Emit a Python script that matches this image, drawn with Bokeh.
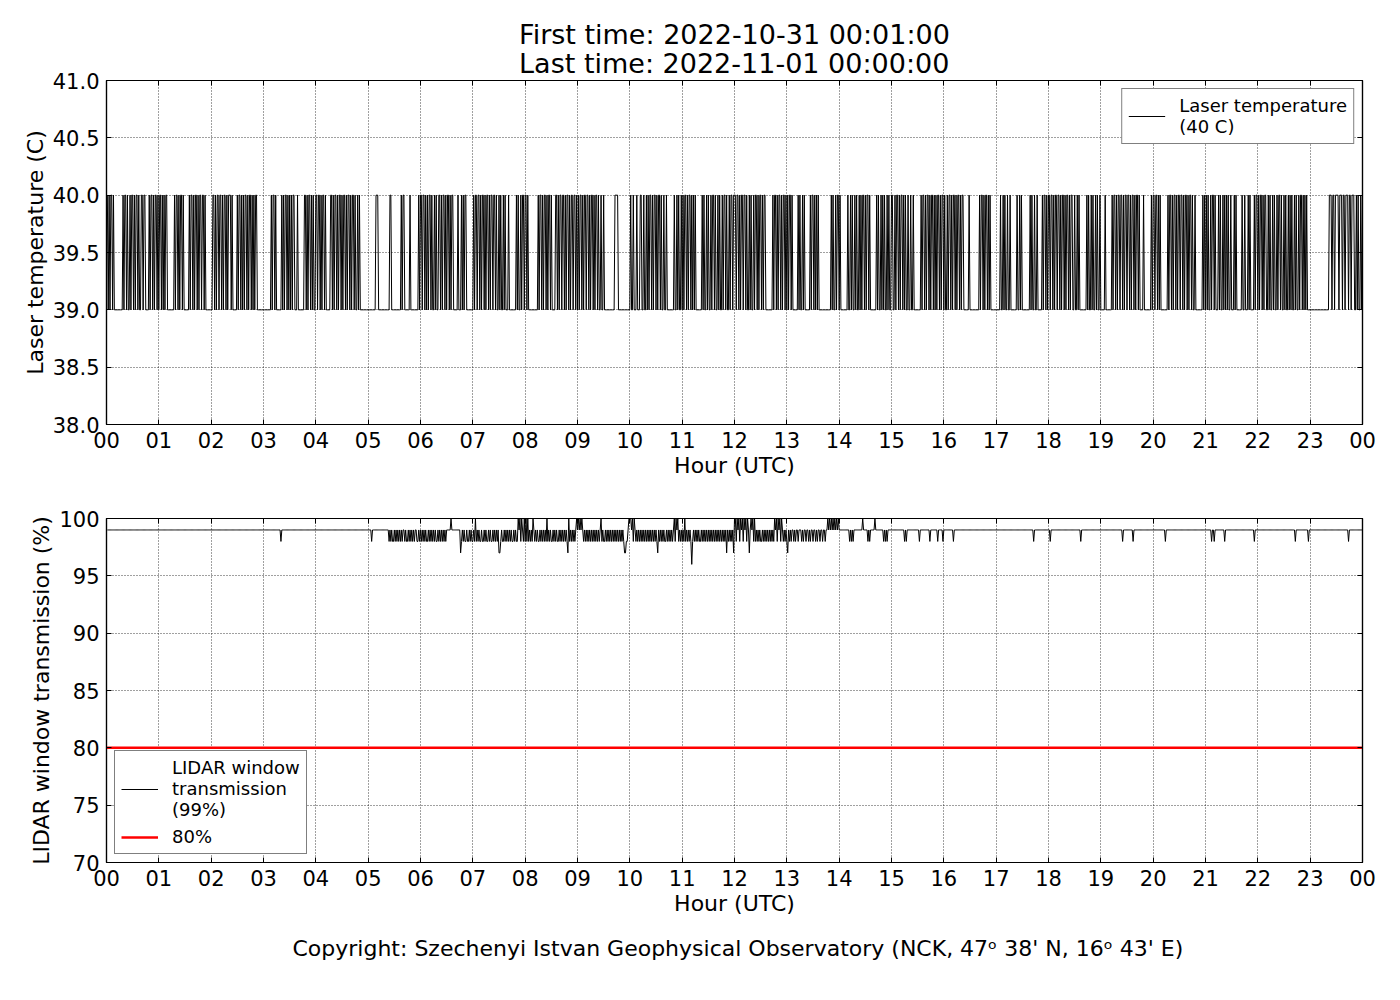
from bokeh.plotting import figure
from bokeh.models import FixedTicker, Legend, LegendItem, LinearAxis, Range1d, Title
from bokeh.layouts import column
from bokeh.embed import file_html
from bokeh.resources import INLINE

FONT = "DejaVu Sans"
first_time = "2022-10-31 00:01:00"
last_time = "2022-11-01 00:00:00"
copyright_text = "Copyright: Szechenyi Istvan Geophysical Observatory (NCK, 47\u1d52  38' N, 16\u1d52  43' E)"

hour_ticks = list(range(25))
hour_labels = ["%02d" % (h % 24) for h in hour_ticks]
temp_ticks = [38.0, 38.5, 39.0, 39.5, 40.0, 40.5, 41.0]
trans_ticks = [70, 75, 80, 85, 90, 95, 100]

# Laser temperature, one char per minute per hour: '0' = 39 C, '1' = 40 C
temp_levels = {"0": 39.0, "1": 40.0}
temp_hours = [
    "1010110100" "0000000010" "1101001011" "0101101001" "1011000010" "1101011010",
    "1101010110" "0000000101" "1010110100" "0000101101" "0110101101" "1010000000",
    "0110101101" "1010110101" "1101000001" "0110101011" "0101101010" "1100000000",
    "0000000010" "1101000000" "1010110101" "0101100010" "0000001101" "0110101001",
    "1011010110" "1000001101" "0110101101" "0110101101" "0110100101" "0000000000",
    "0000000011" "1000000000" "0000110000" "0000000101" "1000000100" "0000000101",
    "1011010101" "1010010100" "1101011010" "1101011000" "0010001010" "1100000000",
    "1011011010" "1101011010" "1101101001" "0100101000" "1000000001" "0100101101",
    "1010000000" "0000101101" "0110101101" "0000110101" "1011010110" "1011011010",
    "1011010110" "1101011010" "1101001001" "0000000000" "0011110000" "0000000000",
    "1001000100" "0110010010" "1011010110" "1011010010" "0100000000" "1001010010",
    "1011010110" "1010100000" "0010100101" "0010110100" "1010010110" "1001011011",
    "1011010110" "1101001010" "0101101011" "0101100000" "0001011010" "1101011010",
    "1011010000" "0010100101" "0000001011" "0101010000" "0000000000" "1010010110",
    "1000000001" "0010100101" "0010101101" "0110100000" "0010100101" "0100101001",
    "1001011010" "1101010010" "0100100000" "0001011010" "1101011010" "1011010110",
    "1001011010" "1101011010" "1100000010" "0000000000" "1011010110" "1010000000",
    "0000100101" "0010010000" "0001001010" "0000000010" "1001001000" "0010110101",
    "1011010110" "1101011010" "1101011001" "0010100000" "0001010010" "1001010010",
    "0000100000" "0010110101" "1011010110" "1101011010" "1101000010" "0000000101",
    "1011010100" "0000001011" "0101101011" "0110101101" "0110100100" "0000001010",
    "1010010110" "1000101001" "0101010010" "0010100000" "0100100010" "1000010110",
    "1011010110" "0101001010" "0101101001" "0100101010" "0101001011" "0101010000",
    "0000000000" "0000000000" "0111011011" "1101110110" "1110110111" "0010100101",
]

# LIDAR window transmission, one char per minute: '0'=100, '1'=99, '2'=98, '3'=97, '4'=96 %
trans_levels = {"0": 100, "1": 99, "2": 98, "3": 97, "4": 96}
trans_hours = [
    "1111111111" "1111111111" "1111111111" "1111111111" "1111111111" "1111111111",
    "1111111111" "1111111111" "1111111111" "1111111111" "1111111111" "1111111111",
    "1111111111" "1111111111" "1111111111" "1111111111" "1111111111" "1111111111",
    "1111111111" "1111111112" "1111111111" "1111111111" "1111111111" "1111111111",
    "1111111111" "1111111111" "1111111111" "1111111111" "1111111111" "1111111111",
    "1112111111" "1111111111" "1112121221" "2121212121" "1212212121" "2121122121",
    "2121212212" "1212121221" "2121212121" "1111011111" "1111132121" "2212212122",
    "1202121221" "2212122121" "2212121213" "3212212121" "2121221212" "2010201202",
    "0202121201" "2121221212" "1212021212" "2121212212" "1212121230" "2121212101",
    "0101012121" "2121212121" "2121210212" "2121212121" "2121212121" "2123322100",
    "0102012121" "2121212121" "2121212121" "2312121212" "2121212121" "0201021212",
    "1202121212" "4212121212" "2121212121" "2121212121" "2121212121" "3121212130",
    "0201020102" "0102013101" "0202121212" "2121212121" "2121201020" "1020121212",
    "3121211212" "1121112121" "1211212112" "1121211211" "2112110101" "0101010101",
    "1111111111" "1212121111" "1111110111" "1121211111" "0111111111" "2121211111",
    "1111111111" "1111212111" "1111111111" "1211111111" "1112111111" "1121111121",
    "1111111111" "2111111111" "1111111111" "1111111111" "1111111111" "1111111111",
    "1111111111" "1111111111" "1111111111" "1111111111" "1121111111" "1111111111",
    "1211111111" "1111111111" "1111111111" "1111112111" "1111111111" "1111111111",
    "1111111111" "1111111111" "1111211111" "1111112111" "1111111111" "1111111111",
    "1111111111" "1112111111" "1111111111" "1111111111" "1111111111" "1111111111",
    "1111112112" "1111111111" "1211111111" "1111111111" "1111111111" "1111121111",
    "1111111111" "1111111111" "1111111111" "1111111111" "1121111111" "1111111211",
    "1111111111" "1111111111" "1111111111" "1111111111" "1112111111" "1111111111",
]
threshold = 80


def expand(hours, levels):
    xs, ys = [], []
    for h, s in enumerate(hours):
        n = len(s)
        for i, c in enumerate(s):
            xs.append(h + (i + 1) / n)
            ys.append(levels[c])
    return xs, ys


tx, ty = expand(temp_hours, temp_levels)
wx, wy = expand(trans_hours, trans_levels)

W = 1392


def make_fig(height, y0, y1, yticks, ylabel, border_top, border_bottom):
    p = figure(width=W, height=height, output_backend="svg", toolbar_location=None,
               x_range=Range1d(0, 24), y_range=Range1d(y0, y1),
               min_border_left=106, min_border_right=30,
               min_border_top=border_top, min_border_bottom=border_bottom)
    p.background_fill_color = "white"
    p.border_fill_color = "white"
    p.outline_line_color = "black"
    p.outline_line_width = 1.2
    xt = FixedTicker(ticks=hour_ticks)
    yt = FixedTicker(ticks=yticks)
    p.xaxis.ticker = xt
    p.yaxis.ticker = yt
    p.xaxis.major_label_overrides = {t: l for t, l in zip(hour_ticks, hour_labels)}
    p.xaxis.axis_label = "Hour (UTC)"
    p.yaxis.axis_label = ylabel
    p.xgrid.ticker = xt
    p.ygrid.ticker = yt
    for g in (p.xgrid, p.ygrid):
        g.grid_line_color = "black"
        g.grid_line_dash = "1 2"
        g.grid_line_width = 1
        g.grid_line_alpha = 0.75
    # mirrored ticks (no labels) on top and right
    top_ax = LinearAxis(ticker=FixedTicker(ticks=hour_ticks),
                        major_label_overrides={t: "" for t in hour_ticks}, major_label_standoff=0)
    right_ax = LinearAxis(ticker=FixedTicker(ticks=yticks),
                          major_label_overrides={t: "" for t in yticks}, major_label_standoff=0)
    p.add_layout(top_ax, "above")
    p.add_layout(right_ax, "right")
    for ax in p.axis:
        ax.major_tick_in = 5
        ax.major_tick_out = 0
        ax.major_tick_line_color = "black"
        ax.minor_tick_line_color = None
        ax.axis_line_color = "black"
        ax.axis_line_width = 1.2
        ax.major_label_text_font = FONT
        ax.major_label_text_font_size = "21px"
        ax.major_label_text_color = "black"
        ax.axis_label_text_font = FONT
        ax.axis_label_text_font_size = "22px"
        ax.axis_label_text_font_style = "normal"
        ax.axis_label_text_color = "black"
    top_ax.major_label_text_font_size = "1px"
    right_ax.major_label_text_font_size = "1px"
    p.below[0].major_label_standoff = 7
    p.below[0].axis_label_standoff = 2
    p.left[0].major_label_standoff = 7
    return p


# ---- top panel
p1 = make_fig(490, 38, 41, temp_ticks, "Laser temperature (C)", 80, 66)
p1.yaxis[0].major_label_overrides = {t: "%.1f" % t for t in temp_ticks}
p1.left[0].axis_label_standoff = 2
p1.title = Title(text="First time: " + first_time + "\nLast time: " + last_time,
                 align="center", text_font=FONT, text_font_size="27px",
                 text_font_style="normal", text_color="black", standoff=2,
                 text_line_height=0.96)
r1 = p1.line(tx, ty, line_color="black", line_width=1)
leg1 = Legend(items=[LegendItem(label="Laser temperature\n(40 C)", renderers=[r1])],
              location="top_right")
p1.add_layout(leg1)

# ---- bottom panel
p2 = make_fig(500, 70, 100, trans_ticks, "LIDAR window transmission (%)", 28, 128)
p2.left[0].axis_label_standoff = 2
r2 = p2.line(wx, wy, line_color="black", line_width=1)
r3 = p2.line([hour_ticks[0], hour_ticks[-1]], [threshold, threshold], line_color="red", line_width=2.5)
leg2 = Legend(items=[LegendItem(label="LIDAR window\ntransmission\n(99%)", renderers=[r2]),
                     LegendItem(label="%d%%" % threshold, renderers=[r3])],
              location="bottom_left")
p2.add_layout(leg2)
p2.add_layout(Title(text=copyright_text, align="left", text_font=FONT, text_font_size="22px",
                    text_font_style="normal", text_color="black", standoff=30, offset=186), "below")

for lg in (leg1, leg2):
    lg.border_line_color = "black"
    lg.border_line_width = 1
    lg.background_fill_color = "white"
    lg.background_fill_alpha = 1
    lg.label_text_font = FONT
    lg.label_text_font_size = "18px"
    lg.label_text_color = "black"
    lg.glyph_width = 37
    lg.label_standoff = 14
    lg.padding = 6
    lg.margin = 8
    lg.spacing = 6

layout = column(p1, p2, spacing=0)
open("out.html", "w").write(file_html(layout, INLINE))
